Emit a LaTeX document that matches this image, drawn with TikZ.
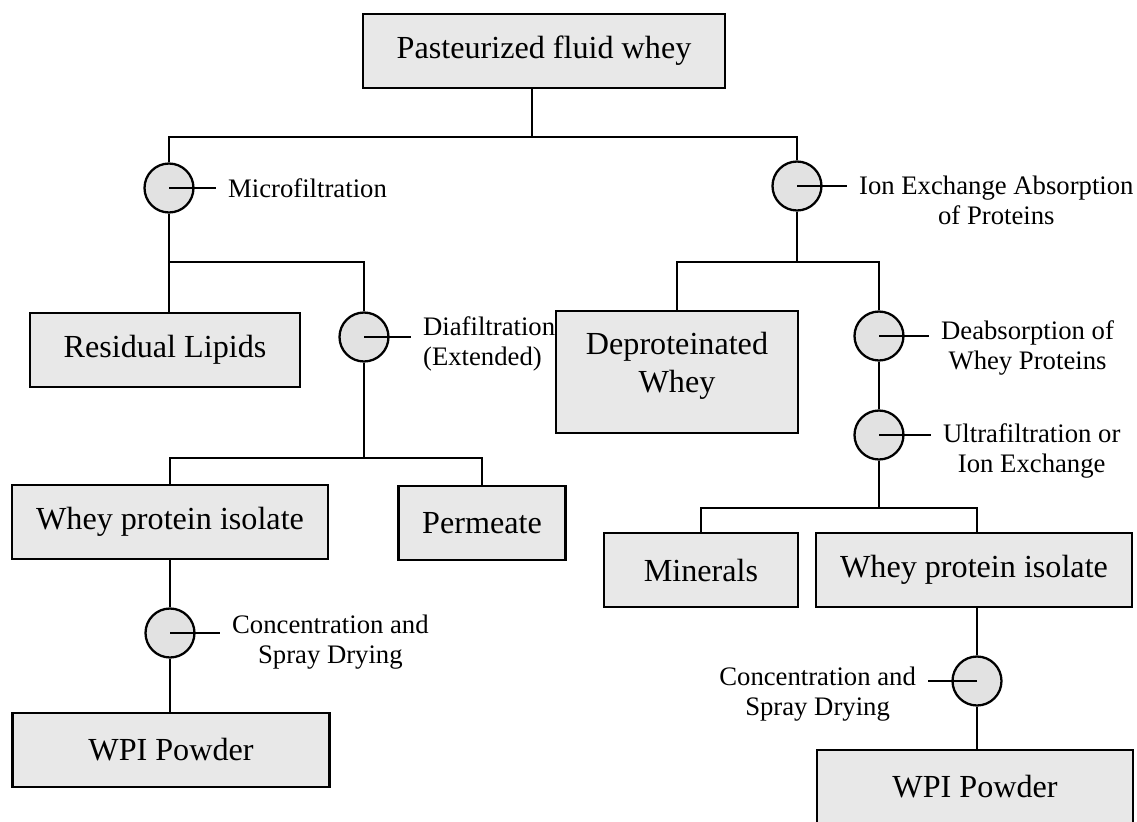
\documentclass[tikz,border=0pt]{standalone}
\usepackage{fontspec}
\setmainfont{Liberation Serif}
\definecolor{boxgray}{HTML}{E8E8E8}
\definecolor{discgray}{HTML}{E2E2E2}
\tikzset{box/.style={draw, fill=boxgray, minimum height=1.48cm, inner sep=0pt, text centered, font=\fontsize{18.3}{21.5}\selectfont},
         proc/.style={draw, circle, fill=discgray, minimum size=0.98cm, inner sep=0pt},
          lbl/.style={inner sep=0pt, font=\fontsize{15.2}{17}\selectfont},
         tick/.style={shorten >=0.22cm}}
\begin{document}
\begin{tikzpicture}[x=0.02cm, y=-0.02cm, line width=1.3pt]
            \useasboundingbox (0,0) rectangle (1137,822);
            \clip (0,0) rectangle (1137,822);

            \node[box, minimum width=7.24cm] at ( 544,  51) (whey)     {Pasteurized fluid whey};
            \node[box, minimum width=5.40cm] at ( 165, 350) (lipids)   {Residual Lipids};
            \node[box, minimum width=4.84cm, minimum height=2.44cm, align=center]
                                             at ( 677, 372) (deprot)   {Deproteinated\\Whey\\[-0.36cm]\mbox{}};
            \node[box, minimum width=6.32cm] at ( 170, 522) (isolateA) {Whey protein isolate};
            \node[box, minimum width=3.34cm] at ( 482, 523) (permeate) {Permeate};
            \node[box, minimum width=6.34cm] at ( 171, 750) (powderA)  {WPI Powder};
            \node[box, minimum width=3.88cm] at ( 701, 570) (minerals) {Minerals};
            \node[box, minimum width=6.32cm] at ( 974, 570) (isolateB) {Whey protein isolate};
            \node[box, minimum width=6.32cm] at ( 975, 787) (powderB)  {WPI Powder};

            \node[proc] at ( 169, 188) (micro)  {};
            \node[proc] at ( 797, 186) (ionex)  {};
            \node[proc] at ( 364, 337) (diafil) {};
            \node[proc] at ( 879, 336) (deabs)  {};
            \node[proc] at ( 879, 435) (ultra)  {};
            \node[proc] at ( 170, 633) (concA)  {};
            \node[proc] at ( 977, 681) (concB)  {};

            \node[lbl, anchor=west]              at ( 227, 188) (microtxt)  {Microfiltration};
            \node[lbl, anchor=west, align=center] at ( 858, 200) (ionextxt)  {Ion Exchange Absorption\\of Proteins};
            \node[lbl, anchor=west, align=left]   at ( 422, 344) (diafiltxt) {Diafiltration\\(Extended)};
            \node[lbl, anchor=west, align=center] at ( 940, 348) (deabstxt)  {Deabsorption of\\Whey Proteins};
            \node[lbl, anchor=west, align=center] at ( 942, 451) (ultratxt)  {Ultrafiltration or\\Ion Exchange};
            \node[lbl, anchor=west, align=center] at ( 231, 642) (concAtxt)  {Concentration and\\Spray Drying};
            \node[lbl, anchor=east, align=center] at ( 917, 694) (concBtxt)  {Concentration and\\Spray Drying};

            \coordinate (split) at ( 532, 137);
            \coordinate (rowA)  at (   0, 262);
            \coordinate (rowB)  at (   0, 458);
            \coordinate (rowC)  at (   0, 508);

            \draw[tick] (micro.center)  -- (micro  -| microtxt.west);
            \draw[tick] (ionex.center)  -- (ionex  -| ionextxt.west);
            \draw[tick] (diafil.center) -- (diafil -| diafiltxt.west);
            \draw[tick] (deabs.center)  -- (deabs  -| deabstxt.west);
            \draw[tick] (ultra.center)  -- (ultra  -| ultratxt.west);
            \draw[tick] (concA.center)  -- (concA  -| concAtxt.west);
            \draw[tick] (concB.center)  -- (concB  -| concBtxt.east);

            \draw (whey.south -| split) -- (split);
            \draw (micro.north) |- (split) -| (ionex.north);

            \draw (micro.south) -- (micro |- lipids.north);
            \draw (micro |- rowA) -| (diafil.north);
            \draw (diafil.south) -- (diafil |- rowB);
            \draw (isolateA.north) |- (diafil |- rowB) -| (permeate.north);
            \draw (isolateA.south) -- (concA.north);
            \draw (concA.south) -- (powderA.north -| concA);

            \draw (ionex.south) -- (ionex |- rowA);
            \draw (deprot.north) |- (ionex |- rowA) -| (deabs.north);
            \draw (deabs.south) -- (ultra.north);
            \draw (ultra.south) -- (ultra |- rowC);
            \draw (minerals.north) |- (ultra |- rowC) -| (isolateB.north -| concB);
            \draw (isolateB.south -| concB) -- (concB.north);
            \draw (concB.south) -- (powderB.north -| concB);
        \end{tikzpicture}
\end{document}
